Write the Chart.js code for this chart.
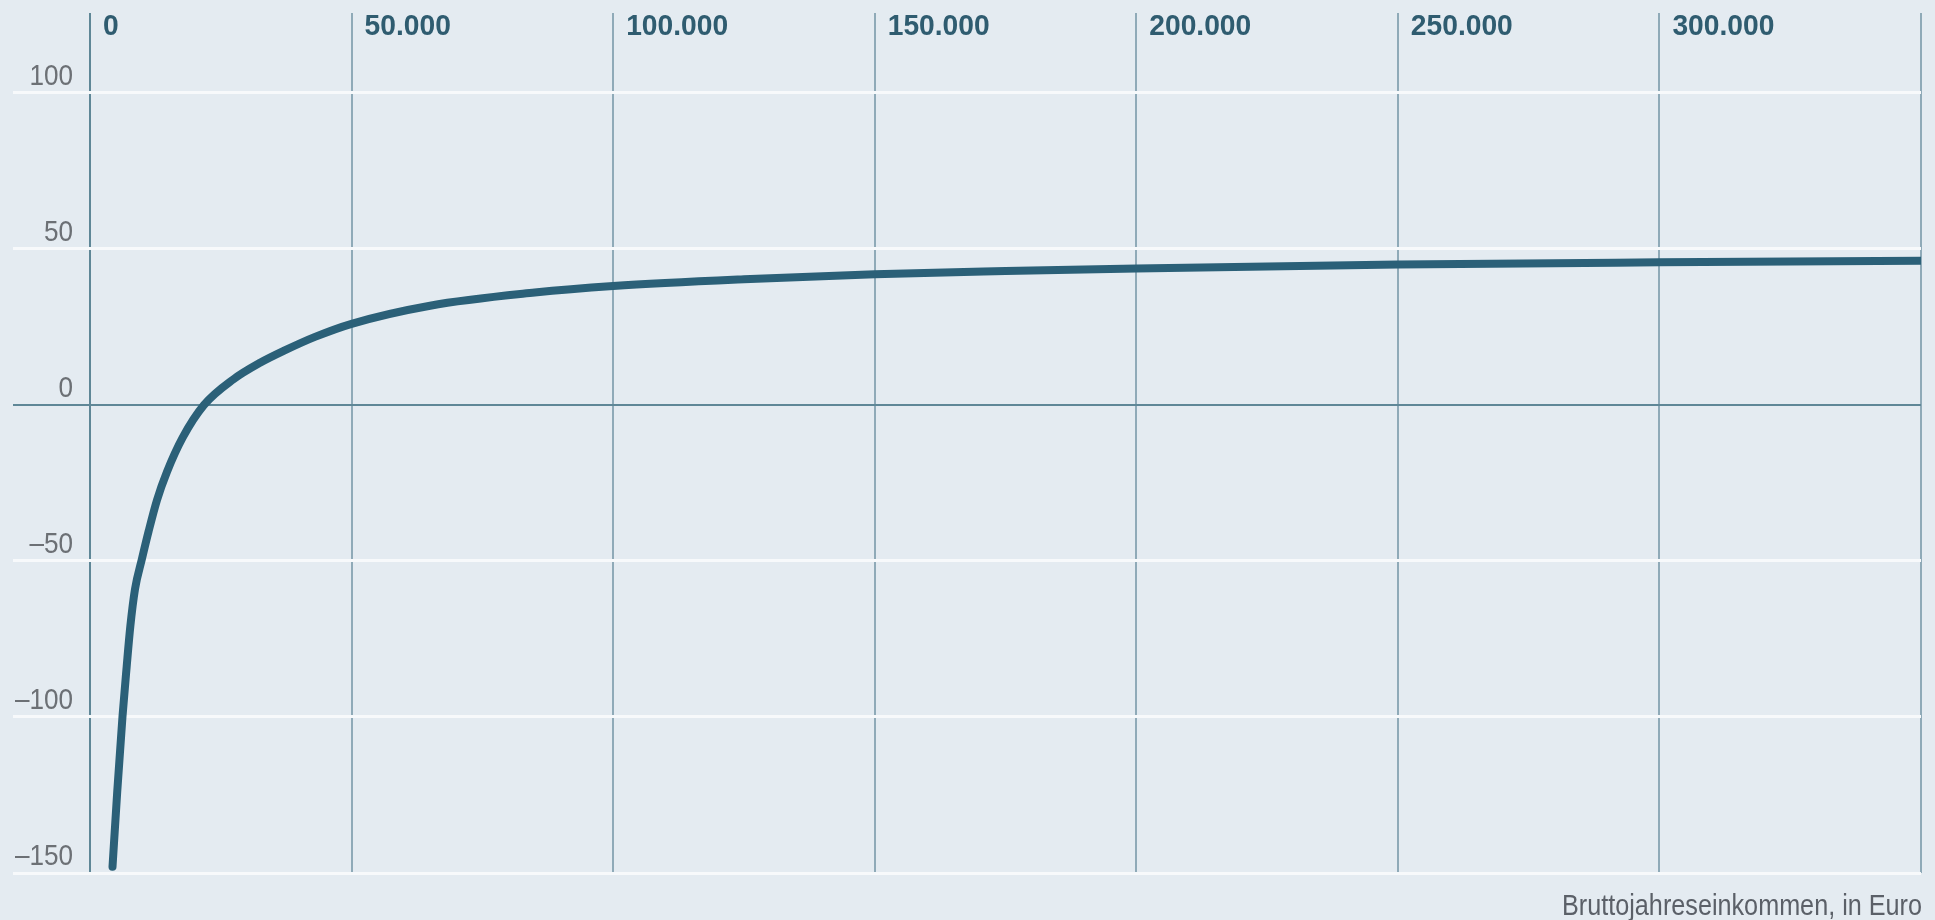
<!DOCTYPE html>
<html>
<head>
<meta charset="utf-8">
<script src="https://cdn.jsdelivr.net/npm/chart.js@4"></script>
<style>
  html, body { margin: 0; padding: 0; background: #e4ebf1; overflow: hidden; }
</style>
</head>
<body>
<canvas id="myChart" width="1935" height="920"></canvas>
<script>
var incomes = [4300, 5200, 6200, 7000, 7700, 8600, 9900, 11200, 12800, 14700, 17700, 21800,
  27400, 32500, 37000, 43000, 50000, 65000, 85000, 100000, 125000, 150000, 175000,
  200000, 250000, 300000, 350000];
var values = [-148, -124, -100, -84, -71, -59, -49.5, -40.5, -30.5, -21.5, -10.5, 0,
  8.2, 13.5, 17.3, 21.8, 26, 31.8, 36, 38.1, 40.3, 41.9, 42.9,
  43.7, 45, 45.7, 46.2];

var xTickValues = [0, 50000, 100000, 150000, 200000, 250000, 300000, 350000];
var xTickLabels = ["0", "50.000", "100.000", "150.000", "200.000", "250.000", "300.000", ""];
var yTickValues = [100, 50, 0, -50, -100, -150];
var yTickLabels = ["100", "50", "0", "\u201350", "\u2013100", "\u2013150"];
var axisTitle = "Bruttojahreseinkommen, in Euro";

var fontFamily = "'Liberation Sans', Arial, sans-serif";

var points = incomes.map(function (x, i) {
  return { x: x, y: values[i] };
});

// text squeezed sideways, the original uses a condensed face
function narrowText(ctx, text, x, y, squeeze) {
  ctx.save();
  ctx.translate(x, y);
  ctx.scale(squeeze, 1);
  ctx.fillText(text, 0, 0);
  ctx.restore();
}

// tick labels and axis title sit next to the grid lines
var labelPlugin = {
  id: "labels",
  afterDraw: function (chart) {
    var ctx = chart.ctx;
    var xs = chart.scales.x;
    var ys = chart.scales.y;
    var area = chart.chartArea;
    ctx.save();
    ctx.textBaseline = "alphabetic";

    ctx.font = "bold 30px " + fontFamily;
    ctx.fillStyle = "#2f5c70";
    ctx.textAlign = "left";
    xTickValues.forEach(function (v, i) {
      narrowText(ctx, xTickLabels[i], xs.getPixelForValue(v) + 13, area.top + 22, 0.94);
    });

    ctx.font = "30px " + fontFamily;
    ctx.fillStyle = "#6c7075";
    ctx.textAlign = "right";
    yTickValues.forEach(function (v, i) {
      narrowText(ctx, yTickLabels[i], 73, ys.getPixelForValue(v) - 8, 0.87);
    });

    ctx.fillStyle = "#5b6068";
    narrowText(ctx, axisTitle, area.right + 1, area.bottom + 42, 0.84);
    ctx.restore();
  },
};

new Chart("myChart", {
  type: "line",
  data: {
    datasets: [
      {
        data: points,
        borderColor: "#2b6078",
        borderWidth: 8,
        borderCapStyle: "round",
        borderJoinStyle: "round",
        pointRadius: 0,
        cubicInterpolationMode: "monotone",
        fill: false,
      },
    ],
  },
  options: {
    responsive: false,
    animation: false,
    layout: { padding: { left: 13, right: 14, top: 13, bottom: 47 } },
    plugins: { legend: { display: false }, tooltip: { enabled: false } },
    scales: {
      x: {
        type: "linear",
        min: -14723,
        max: 350000,
        afterBuildTicks: function (scale) {
          scale.ticks = xTickValues.map(function (v) { return { value: v }; });
        },
        ticks: { display: false },
        border: { display: false },
        grid: {
          drawTicks: false,
          lineWidth: 2,
          color: function (c) {
            return c.tick && c.tick.value === 0 ? "#5f8797" : "#8faab8";
          },
        },
      },
      y: {
        min: -150,
        max: 125.6,
        afterBuildTicks: function (scale) {
          scale.ticks = yTickValues.map(function (v) { return { value: v }; });
        },
        ticks: { display: false },
        border: { display: false },
        grid: {
          drawTicks: false,
          lineWidth: function (c) {
            return c.tick && c.tick.value === 0 ? 2 : 3;
          },
          color: function (c) {
            return c.tick && c.tick.value === 0 ? "#5f8797" : "#f7f9fb";
          },
        },
      },
    },
  },
  plugins: [labelPlugin],
});
</script>
</body>
</html>
